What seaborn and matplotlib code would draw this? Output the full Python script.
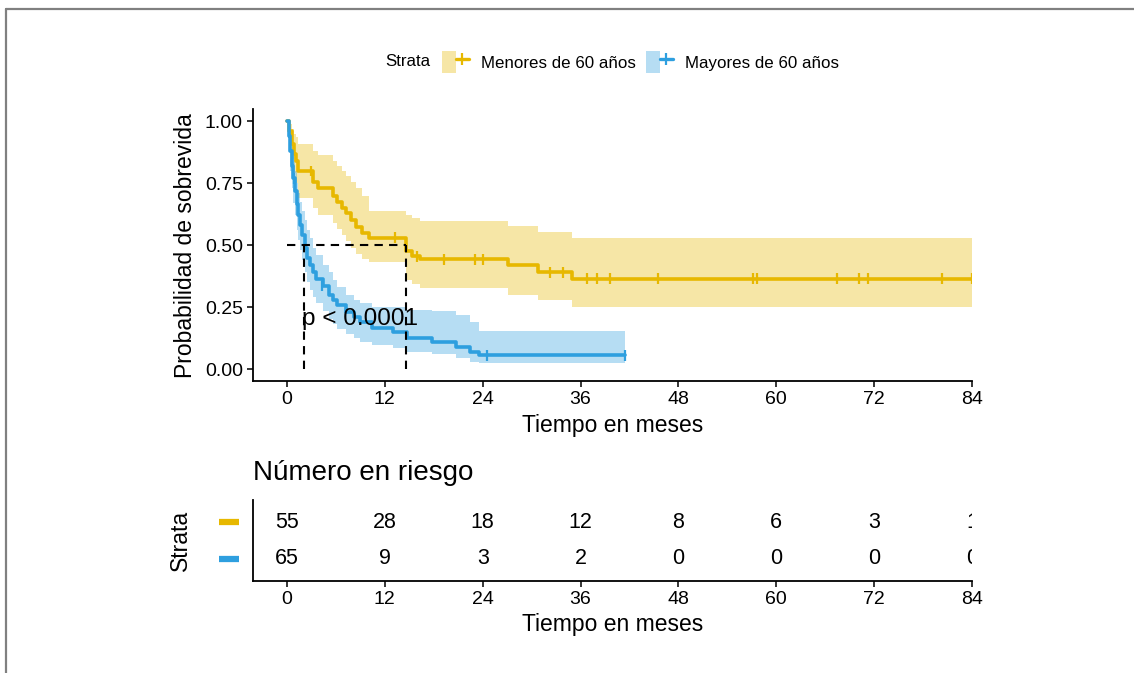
import numpy as np
import pandas as pd
import seaborn as sns
import matplotlib.pyplot as plt
from matplotlib.lines import Line2D
from matplotlib.patches import Patch
from matplotlib.legend_handler import HandlerTuple
import matplotlib.transforms as mtransforms

# Kaplan-Meier curves (months, survival, 95% CI)
menores_time = [0, 0.3, 0.6, 0.9, 1.1, 1.4, 3.2, 3.8, 5.7, 6.1, 6.7, 7.3, 7.9, 8.5, 9.2, 10.0,
                14.6, 15.3, 16.3, 27.1, 30.8, 35.0, 84.0]
menores_surv = [1.0, 0.96, 0.91, 0.87, 0.84, 0.80, 0.755, 0.73, 0.70, 0.675, 0.65, 0.63, 0.60,
                0.575, 0.55, 0.53, 0.475, 0.455, 0.443, 0.42, 0.39, 0.365, 0.365]
menores_lower = [1.0, 0.92, 0.85, 0.79, 0.75, 0.69, 0.65, 0.62, 0.59, 0.565, 0.54, 0.515, 0.49,
                 0.465, 0.445, 0.433, 0.36, 0.345, 0.327, 0.30, 0.28, 0.25, 0.25]
menores_upper = [1.0, 0.99, 0.97, 0.95, 0.935, 0.91, 0.88, 0.865, 0.84, 0.82, 0.80, 0.78, 0.755,
                 0.73, 0.70, 0.64, 0.62, 0.61, 0.598, 0.578, 0.554, 0.53, 0.53]
menores_cens_t = [3.0, 13.2, 16.0, 19.2, 23.0, 24.0, 32.3, 33.8, 36.8, 38.0, 39.6, 45.5,
                  57.1, 57.6, 67.4, 70.2, 71.2, 80.3, 84.0]
menores_cens_s = [0.80, 0.53, 0.455, 0.443, 0.443, 0.443, 0.39, 0.39, 0.365, 0.365, 0.365,
                  0.365, 0.365, 0.365, 0.365, 0.365, 0.365, 0.365, 0.365]

mayores_time = [0, 0.2, 0.4, 0.6, 0.8, 1.0, 1.2, 1.4, 1.6, 1.8, 2.2, 2.5, 2.8, 3.2, 3.6, 4.4,
                5.1, 5.6, 6.1, 7.3, 8.2, 9.0, 10.4, 13.0, 14.7, 17.8, 20.7, 22.5, 23.5, 41.5]
mayores_surv = [1.0, 0.94, 0.88, 0.82, 0.77, 0.72, 0.665, 0.62, 0.58, 0.54, 0.49, 0.45, 0.42,
                0.39, 0.365, 0.335, 0.30, 0.28, 0.258, 0.231, 0.21, 0.19, 0.164, 0.15, 0.126,
                0.11, 0.087, 0.07, 0.056, 0.056]
mayores_lower = [1.0, 0.88, 0.80, 0.73, 0.67, 0.62, 0.56, 0.52, 0.48, 0.44, 0.39, 0.35, 0.32,
                 0.29, 0.265, 0.235, 0.20, 0.18, 0.16, 0.14, 0.125, 0.11, 0.095, 0.085, 0.07,
                 0.06, 0.045, 0.03, 0.025, 0.025]
mayores_upper = [1.0, 0.99, 0.95, 0.90, 0.86, 0.80, 0.75, 0.71, 0.675, 0.64, 0.60, 0.56, 0.53,
                 0.49, 0.46, 0.42, 0.39, 0.36, 0.33, 0.30, 0.28, 0.265, 0.25, 0.25, 0.24,
                 0.235, 0.22, 0.19, 0.154, 0.154]
mayores_cens_t = [0.85, 4.3, 24.5, 41.5]
mayores_cens_s = [0.77, 0.335, 0.056, 0.056]

median_menores = 14.6
median_mayores = 2.1

# Number at risk table
risk_times = [0, 12, 24, 36, 48, 60, 72, 84]
risk_menores = [55, 28, 18, 12, 8, 6, 3, 1]
risk_mayores = [65, 9, 3, 2, 0, 0, 0, 0]

labels = ['Menores de 60 años', 'Mayores de 60 años']
colors = ['#E7B800', '#2E9FDF']

sns.set_style('ticks')
plt.rcParams['font.family'] = ['Liberation Sans', 'DejaVu Sans']
plt.rcParams['text.color'] = 'black'
plt.rcParams['axes.labelcolor'] = 'black'

df = pd.concat([
    pd.DataFrame({'t': menores_time, 's': menores_surv, 'Strata': labels[0]}),
    pd.DataFrame({'t': mayores_time, 's': mayores_surv, 'Strata': labels[1]})])
cens = pd.concat([
    pd.DataFrame({'t': menores_cens_t, 's': menores_cens_s, 'Strata': labels[0]}),
    pd.DataFrame({'t': mayores_cens_t, 's': mayores_cens_s, 'Strata': labels[1]})])

W, H = 1134, 673
fig = plt.figure(figsize=(W / 100, H / 100), dpi=100)
x0, x1 = 252.7, 972
ax = fig.add_axes([x0 / W, 1 - 381.4 / H, (x1 - x0) / W, (381.4 - 109) / H])
ax_r = fig.add_axes([x0 / W, 1 - 581 / H, (x1 - x0) / W, 81 / H])

# confidence bands
ax.fill_between(menores_time, menores_lower, menores_upper, step='post',
                color=colors[0], alpha=0.35, lw=0)
ax.fill_between(mayores_time, mayores_lower, mayores_upper, step='post',
                color=colors[1], alpha=0.35, lw=0)

# survival curves
sns.lineplot(data=df, x='t', y='s', hue='Strata', palette=colors, estimator=None,
             sort=False, drawstyle='steps-post', lw=2.6, legend=False, ax=ax)
sns.scatterplot(data=cens, x='t', y='s', hue='Strata', palette=colors, marker='|',
                s=60, linewidth=1.6, legend=False, ax=ax, zorder=5)

# median lines
dash = dict(color='black', lw=1.5, ls=(0, (4, 3)))
ax.plot([0, max(median_menores, median_mayores)], [0.5, 0.5], **dash)
for m in [median_menores, median_mayores]:
    ax.plot([m, m], [0, 0.5], **dash)

ax.text(1.8, 0.2, 'p < 0.0001', fontsize=17.5, ha='left', va='center')

ax.set_xlim(-4.2, 84)
ax.set_ylim(-0.05, 1.05)
ax.set_xticks(risk_times)
ax.set_yticks([0, 0.25, 0.5, 0.75, 1.0])
ax.set_yticklabels(['0.00', '0.25', '0.50', '0.75', '1.00'])
ax.set_xlabel('Tiempo en meses', fontsize=16.5, labelpad=4)
ax.set_ylabel('Probabilidad de sobrevida', fontsize=16.5, labelpad=6)
sns.despine(ax=ax)

# risk table
for i, (vals, c) in enumerate([(risk_menores, colors[0]), (risk_mayores, colors[1])]):
    row = 2 - i
    for t, v in zip(risk_times, vals):
        ax_r.text(t, row, str(v), ha='center', va='center', fontsize=15.5, clip_on=True)
    trans = mtransforms.blended_transform_factory(fig.transFigure, ax_r.transData)
    ax_r.add_line(Line2D([219 / W, 239 / W], [row, row], transform=trans, color=c,
                         lw=4.5, solid_capstyle='butt', clip_on=False))

ax_r.set_xlim(-4.2, 84)
ax_r.set_ylim(0.4, 2.6)
ax_r.set_xticks(risk_times)
ax_r.set_yticks([])
ax_r.set_xlabel('Tiempo en meses', fontsize=16.5, labelpad=4)
ax_r.set_ylabel('Strata', fontsize=16.5, labelpad=44)
sns.despine(ax=ax_r)

for a in [ax, ax_r]:
    a.tick_params(labelsize=14, length=4, width=1.1, colors='black', pad=3)
    for sp in ['left', 'bottom']:
        a.spines[sp].set_linewidth(1.3)
        a.spines[sp].set_color('black')

fig.text(x0 / W, 1 - 473 / H, 'Número en riesgo', fontsize=20, ha='left', va='center')

# legend
fig.text(385 / W, 1 - 62 / H, 'Strata', fontsize=12.2, ha='left', va='center')
handles = [(Patch(facecolor=c, alpha=0.35, lw=0),
            Line2D([], [], color=c, lw=2.4, marker='|', markersize=9, markeredgewidth=1.6))
           for c in colors]
fig.legend(handles, labels, loc='center left', bbox_to_anchor=(442 / W, 1 - 62 / H),
           ncol=2, frameon=False, fontsize=12.2, handlelength=1.6, handleheight=1.6,
           columnspacing=0.6, handletextpad=0.7, borderaxespad=0, borderpad=0,
           handler_map={tuple: HandlerTuple(ndivide=None, pad=0)})

# outer frame
fig.add_artist(Line2D([6 / W, 6 / W], [0, 1 - 9 / H], transform=fig.transFigure,
                      color='#808080', lw=1.6))
fig.add_artist(Line2D([6 / W, 1], [1 - 9 / H, 1 - 9 / H], transform=fig.transFigure,
                      color='#808080', lw=1.6))

fig.savefig('out.png', dpi=100)
